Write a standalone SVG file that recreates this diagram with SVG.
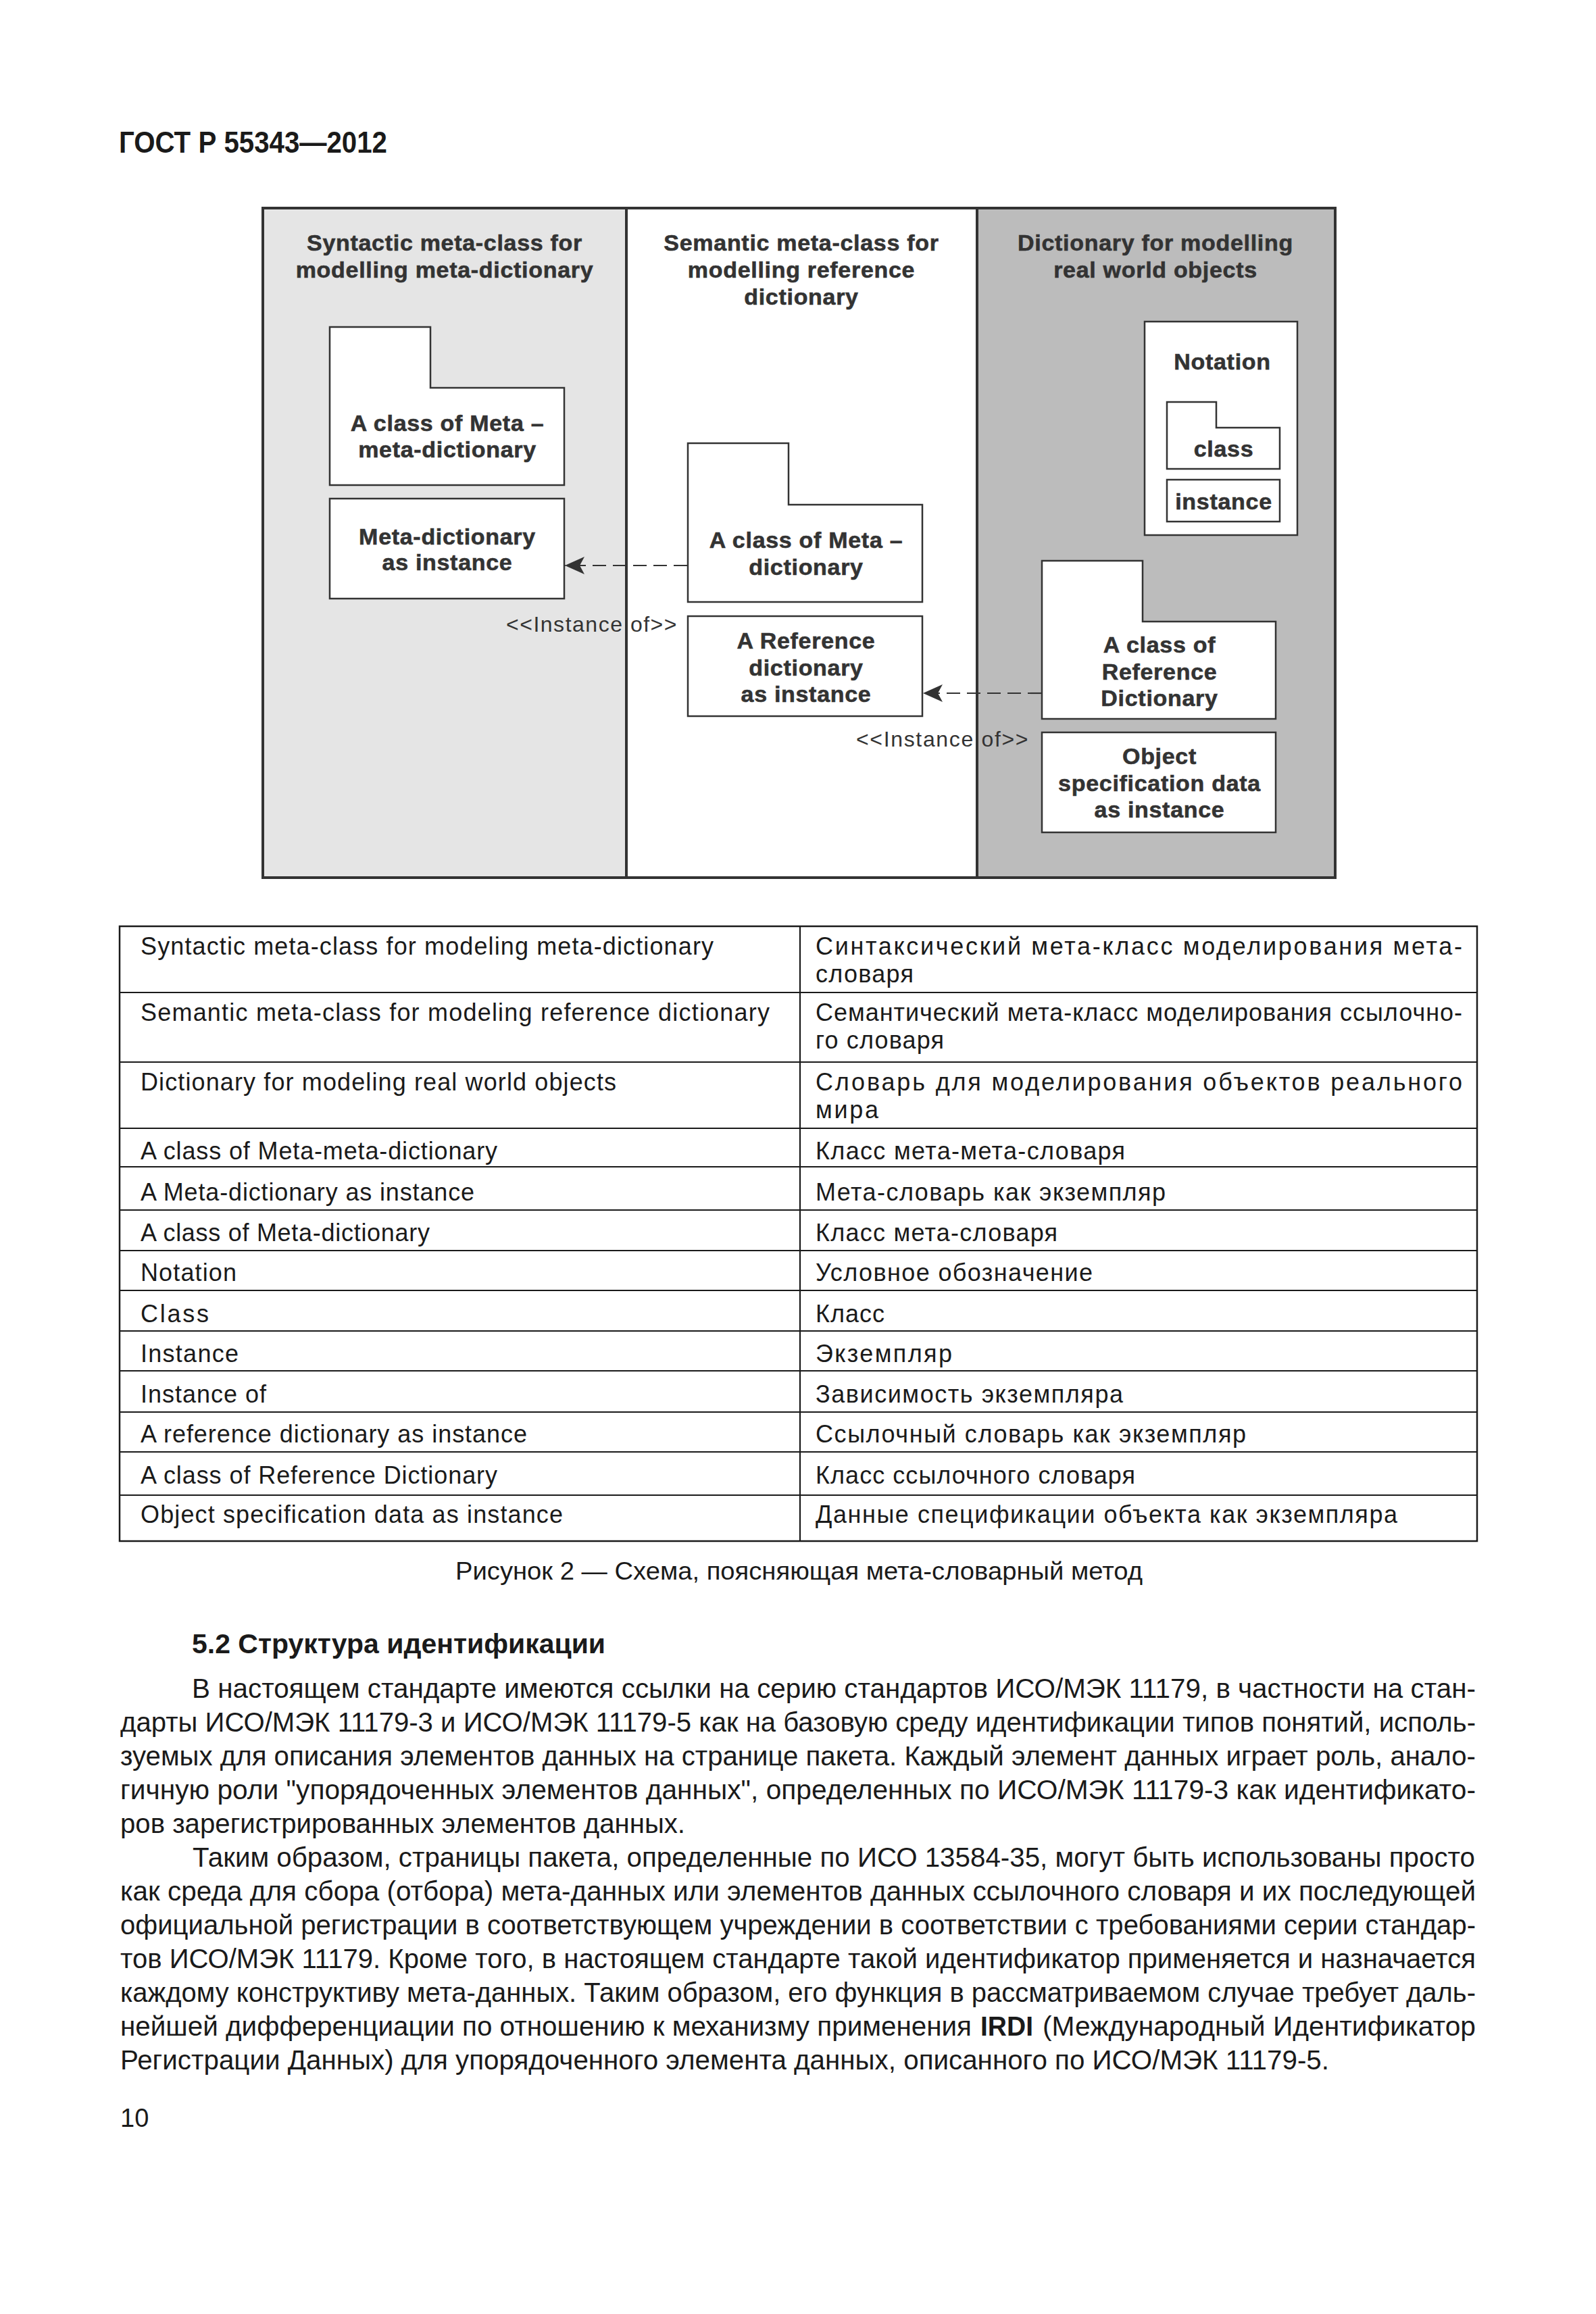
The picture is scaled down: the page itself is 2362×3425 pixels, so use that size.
<svg xmlns="http://www.w3.org/2000/svg" width="2362" height="3425" viewBox="0 0 2362 3425">
<style>
.pg{fill:#ffffff}
.hdr{font-family:'Liberation Sans',Arial,sans-serif;font-weight:bold;font-size:45px;fill:#1a1a1a}
.frame{fill:none;stroke:#333;stroke-width:4}
.div{stroke:#333;stroke-width:4}
.ct{font-family:'Liberation Sans',Arial,sans-serif;font-weight:bold;font-size:34px;fill:#333;stroke:#333;stroke-width:0.6;letter-spacing:0.7px;text-anchor:middle}
.box{fill:#fff;stroke:#333;stroke-width:2.5}
.con{fill:none;stroke:#333;stroke-width:2.2;stroke-dasharray:20 10}
.lbl{font-family:'Liberation Sans',Arial,sans-serif;font-size:32px;fill:#333;letter-spacing:1.5px}
.tline{stroke:#1a1a1a;stroke-width:2.2}
.tbox{fill:none;stroke:#1a1a1a;stroke-width:2.5}
.tt{font-family:'Liberation Sans',Arial,sans-serif;font-size:36px;fill:#1a1a1a}
.bt{font-family:'Liberation Sans',Arial,sans-serif;font-size:40px;fill:#1a1a1a}
.bb{font-family:'Liberation Sans',Arial,sans-serif;font-size:40px;font-weight:bold;fill:#1a1a1a}
.cap{font-family:'Liberation Sans',Arial,sans-serif;font-size:36px;fill:#1a1a1a}
</style>
<defs>
<marker id="ah" markerUnits="userSpaceOnUse" markerWidth="32" markerHeight="30" refX="29" refY="14" orient="auto" viewBox="0 0 32 28">
<path d="M0,1 L29,14 L0,27 L7,14 Z" fill="#333"/>
</marker>
</defs>
<rect class="pg" x="0" y="0" width="2362" height="3425"/>
<text class="hdr" x="176" y="226" textLength="397" lengthAdjust="spacingAndGlyphs">ГОСТ Р 55343—2012</text>

<g id="diagram">
<rect x="389" y="308" width="538" height="991" fill="#e5e5e5"/>
<rect x="927" y="308" width="519" height="991" fill="#ffffff"/>
<rect x="1446" y="308" width="530" height="991" fill="#bcbcbc"/>
<line class="div" x1="927" y1="308" x2="927" y2="1299"/>
<line class="div" x1="1446" y1="308" x2="1446" y2="1299"/>
<rect class="frame" x="389" y="308" width="1587" height="991"/>
</g>

<g id="col-syntactic">
<text class="ct" x="658" y="371">Syntactic meta-class for</text>
<text class="ct" x="658" y="411">modelling meta-dictionary</text>
</g>
<g id="col-semantic">
<text class="ct" x="1186" y="371">Semantic meta-class for</text>
<text class="ct" x="1186" y="411">modelling reference</text>
<text class="ct" x="1186" y="451">dictionary</text>
</g>
<g id="col-dictionary">
<text class="ct" x="1710" y="371">Dictionary for modelling</text>
<text class="ct" x="1710" y="411">real world objects</text>
</g>

<g id="node-class-meta-meta">
<path class="box" d="M488,484 H637 V574 H835 V718 H488 Z"/>
<text class="ct" x="662" y="638">A class of Meta –</text>
<text class="ct" x="662" y="677">meta-dictionary</text>
</g>
<g id="node-meta-dict-instance">
<rect class="box" x="488" y="738" width="347" height="148"/>
<text class="ct" x="662" y="806">Meta-dictionary</text>
<text class="ct" x="662" y="844">as instance</text>
</g>
<g id="node-class-meta-dict">
<path class="box" d="M1018,656 H1167 V747 H1365 V891 H1018 Z"/>
<text class="ct" x="1193" y="811">A class of Meta –</text>
<text class="ct" x="1193" y="851">dictionary</text>
</g>
<g id="node-ref-dict-instance">
<rect class="box" x="1018" y="912" width="347" height="148"/>
<text class="ct" x="1193" y="960">A Reference</text>
<text class="ct" x="1193" y="1000">dictionary</text>
<text class="ct" x="1193" y="1039">as instance</text>
</g>
<g id="node-notation">
<rect class="box" x="1694" y="476" width="226" height="316"/>
<text class="ct" x="1809" y="547">Notation</text>
<path class="box" d="M1727,595 H1800 V633 H1894 V694 H1727 Z"/>
<text class="ct" x="1811" y="676">class</text>
<rect class="box" x="1727" y="710" width="167" height="62"/>
<text class="ct" x="1811" y="754">instance</text>
</g>
<g id="node-class-ref-dict">
<path class="box" d="M1542,830 H1691 V920 H1888 V1064 H1542 Z"/>
<text class="ct" x="1716" y="966">A class of</text>
<text class="ct" x="1716" y="1006">Reference</text>
<text class="ct" x="1716" y="1045">Dictionary</text>
</g>
<g id="node-object-spec">
<rect class="box" x="1542" y="1084" width="346" height="148"/>
<text class="ct" x="1716" y="1131">Object</text>
<text class="ct" x="1716" y="1171">specification data</text>
<text class="ct" x="1716" y="1210">as instance</text>
</g>

<g id="connectors">
<line class="con" x1="1017" y1="837" x2="836" y2="837" marker-end="url(#ah)"/>
<line class="con" x1="1541" y1="1026" x2="1366" y2="1026" marker-end="url(#ah)"/>
<text class="lbl" x="749" y="935" textLength="254" lengthAdjust="spacing">&lt;&lt;Instance of&gt;&gt;</text>
<text class="lbl" x="1267" y="1105" textLength="256" lengthAdjust="spacing">&lt;&lt;Instance of&gt;&gt;</text>
</g>

<g id="table">
<rect class="tbox" x="177" y="1371" width="2009" height="910"/>
<line class="tline" x1="1184" y1="1371" x2="1184" y2="2281"/>
<line class="tline" x1="177" y1="1469" x2="2186" y2="1469"/>
<line class="tline" x1="177" y1="1572" x2="2186" y2="1572"/>
<line class="tline" x1="177" y1="1670" x2="2186" y2="1670"/>
<line class="tline" x1="177" y1="1727" x2="2186" y2="1727"/>
<line class="tline" x1="177" y1="1791" x2="2186" y2="1791"/>
<line class="tline" x1="177" y1="1851" x2="2186" y2="1851"/>
<line class="tline" x1="177" y1="1910" x2="2186" y2="1910"/>
<line class="tline" x1="177" y1="1970" x2="2186" y2="1970"/>
<line class="tline" x1="177" y1="2029" x2="2186" y2="2029"/>
<line class="tline" x1="177" y1="2090" x2="2186" y2="2090"/>
<line class="tline" x1="177" y1="2149" x2="2186" y2="2149"/>
<line class="tline" x1="177" y1="2213" x2="2186" y2="2213"/>

<text class="tt" x="208" y="1413" textLength="848" lengthAdjust="spacing">Syntactic meta-class for modeling meta-dictionary</text>
<text class="tt" x="208" y="1511" textLength="931" lengthAdjust="spacing">Semantic meta-class for modeling reference dictionary</text>
<text class="tt" x="208" y="1614" textLength="704" lengthAdjust="spacing">Dictionary for modeling real world objects</text>
<text class="tt" x="208" y="1716" textLength="528" lengthAdjust="spacing">A class of Meta-meta-dictionary</text>
<text class="tt" x="208" y="1777" textLength="494" lengthAdjust="spacing">A Meta-dictionary as instance</text>
<text class="tt" x="208" y="1837" textLength="428" lengthAdjust="spacing">A class of Meta-dictionary</text>
<text class="tt" x="208" y="1896" textLength="142" lengthAdjust="spacing">Notation</text>
<text class="tt" x="208" y="1957" textLength="101" lengthAdjust="spacing">Class</text>
<text class="tt" x="208" y="2016" textLength="145" lengthAdjust="spacing">Instance</text>
<text class="tt" x="208" y="2076" textLength="186" lengthAdjust="spacing">Instance of</text>
<text class="tt" x="208" y="2135" textLength="572" lengthAdjust="spacing">A reference dictionary as instance</text>
<text class="tt" x="208" y="2196" textLength="528" lengthAdjust="spacing">A class of Reference Dictionary</text>
<text class="tt" x="208" y="2254" textLength="625" lengthAdjust="spacing">Object specification data as instance</text>

<text class="tt" x="1207" y="1413" textLength="957" lengthAdjust="spacing">Синтаксический  мета-класс  моделирования  мета-</text>
<text class="tt" x="1207" y="1454" textLength="145" lengthAdjust="spacing">словаря</text>
<text class="tt" x="1207" y="1511" textLength="957" lengthAdjust="spacing">Семантический мета-класс моделирования ссылочно-</text>
<text class="tt" x="1207" y="1552" textLength="190" lengthAdjust="spacing">го словаря</text>
<text class="tt" x="1207" y="1614" textLength="957" lengthAdjust="spacing">Словарь для моделирования объектов реального</text>
<text class="tt" x="1207" y="1655" textLength="93" lengthAdjust="spacing">мира</text>
<text class="tt" x="1207" y="1716" textLength="458" lengthAdjust="spacing">Класс мета-мета-словаря</text>
<text class="tt" x="1207" y="1777" textLength="518" lengthAdjust="spacing">Мета-словарь как экземпляр</text>
<text class="tt" x="1207" y="1837" textLength="358" lengthAdjust="spacing">Класс мета-словаря</text>
<text class="tt" x="1207" y="1896" textLength="410" lengthAdjust="spacing">Условное обозначение</text>
<text class="tt" x="1207" y="1957" textLength="102" lengthAdjust="spacing">Класс</text>
<text class="tt" x="1207" y="2016" textLength="202" lengthAdjust="spacing">Экземпляр</text>
<text class="tt" x="1207" y="2076" textLength="455" lengthAdjust="spacing">Зависимость экземпляра</text>
<text class="tt" x="1207" y="2135" textLength="637" lengthAdjust="spacing">Ссылочный словарь как экземпляр</text>
<text class="tt" x="1207" y="2196" textLength="473" lengthAdjust="spacing">Класс ссылочного словаря</text>
<text class="tt" x="1207" y="2254" textLength="861" lengthAdjust="spacing">Данные спецификации объекта как экземпляра</text>
</g>

<text class="cap" x="674" y="2338" textLength="1017" lengthAdjust="spacingAndGlyphs">Рисунок 2 — Схема, поясняющая мета-словарный метод</text>

<text class="bb" x="284" y="2447" textLength="612" lengthAdjust="spacingAndGlyphs">5.2 Структура идентификации</text>

<text class="bt" x="284" y="2513" textLength="1900" lengthAdjust="spacingAndGlyphs">В настоящем стандарте имеются ссылки на серию стандартов ИСО/МЭК 11179, в частности на стан-</text>
<text class="bt" x="178" y="2563" textLength="2006" lengthAdjust="spacingAndGlyphs">дарты ИСО/МЭК 11179-3 и ИСО/МЭК 11179-5 как на базовую среду идентификации типов понятий, исполь-</text>
<text class="bt" x="178" y="2613" textLength="2006" lengthAdjust="spacingAndGlyphs">зуемых для описания элементов данных на странице пакета. Каждый элемент данных играет роль, анало-</text>
<text class="bt" x="178" y="2663" textLength="2006" lengthAdjust="spacingAndGlyphs">гичную роли "упорядоченных элементов данных", определенных по ИСО/МЭК 11179-3 как идентификато-</text>
<text class="bt" x="178" y="2713" textLength="836" lengthAdjust="spacingAndGlyphs">ров зарегистрированных элементов данных.</text>
<text class="bt" x="285" y="2763" textLength="1898" lengthAdjust="spacingAndGlyphs">Таким образом, страницы пакета, определенные по ИСО 13584-35, могут быть использованы просто</text>
<text class="bt" x="178" y="2813" textLength="2006" lengthAdjust="spacingAndGlyphs">как среда для сбора (отбора) мета-данных или элементов данных ссылочного словаря и их последующей</text>
<text class="bt" x="178" y="2863" textLength="2006" lengthAdjust="spacingAndGlyphs">официальной регистрации в соответствующем учреждении в соответствии с требованиями серии стандар-</text>
<text class="bt" x="178" y="2913" textLength="2006" lengthAdjust="spacingAndGlyphs">тов ИСО/МЭК 11179. Кроме того, в настоящем стандарте такой идентификатор применяется и назначается</text>
<text class="bt" x="178" y="2963" textLength="2006" lengthAdjust="spacingAndGlyphs">каждому конструктиву мета-данных. Таким образом, его функция в рассматриваемом случае требует даль-</text>
<text class="bt" x="178" y="3013" textLength="1260" lengthAdjust="spacingAndGlyphs">нейшей дифференциации по отношению к механизму применения</text>
<text class="bb" x="1451" y="3013" textLength="78" lengthAdjust="spacingAndGlyphs">IRDI</text>
<text class="bt" x="1543" y="3013" textLength="641" lengthAdjust="spacingAndGlyphs">(Международный Идентификатор</text>
<text class="bt" x="178" y="3063" textLength="1789" lengthAdjust="spacingAndGlyphs">Регистрации Данных) для упорядоченного элемента данных, описанного по ИСО/МЭК 11179-5.</text>

<text class="cap" x="178" y="3148" style="font-size:38px">10</text>
</svg>
